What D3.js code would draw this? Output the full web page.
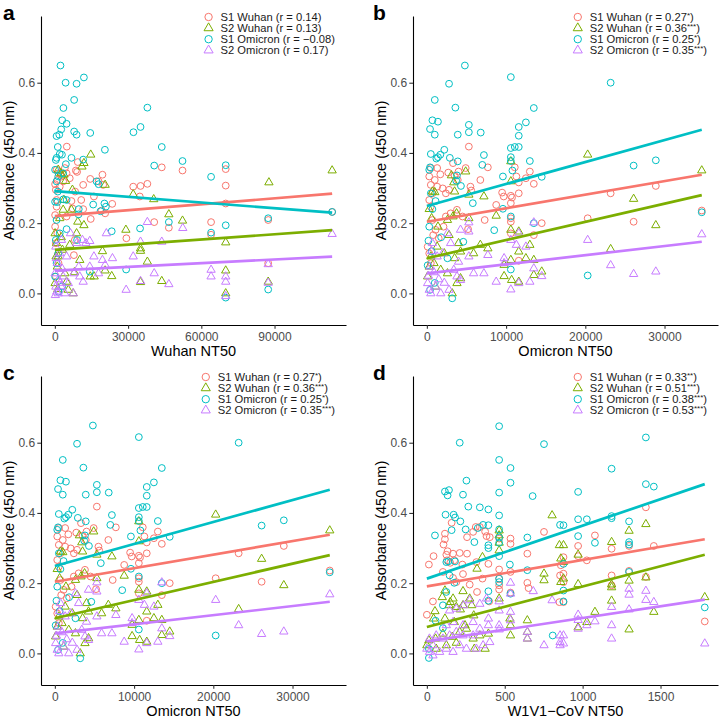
<!DOCTYPE html>
<html><head><meta charset="utf-8">
<script src="https://cdn.jsdelivr.net/npm/d3@7"></script>
<style>
body{margin:0;background:#fff}
svg{display:block}
text{font-family:"Liberation Sans",Arial,Helvetica,sans-serif}
</style>
</head><body>
<svg id="chart" width="720" height="720"></svg>
<script>
// ---------- shared ----------
const seriesNames = ["S1 Wuhan","S2 Wuhan","S1 Omicron","S2 Omicron"];
const seriesColors = ["#F8766D","#7CAE00","#00BFC4","#C77CFF"];
const seriesShapes = ["circle","triangle","circle","triangle"];
const yTicks = [0,0.2,0.4,0.6];
const yDomain = [-0.09,0.79];
const yTitle = "Absorbance (450 nm)";

// ---------- panel a : Wuhan NT50 ----------
const xTicksA = [0,30000,60000,90000];
const rA = ["0.14","0.13","\u22120.08","0.17"];
const starsA = ["","","",""];
const fitXA = [0,113600];
const fitA = [[0.220,0.284],[0.124,0.180],[0.291,0.230],[0.065,0.105]];
const aS1W = [[4900,0.418],[9400,0.374],[8600,0.350],[9100,0.346],[700,0.352],[1500,0.342],[2700,0.333],[3400,0.319],[1000,0.323],[4100,0.357],[4800,0.342],[6100,0.328],[14500,0.326],[11600,0.309],[19500,0.338],[17900,0.319],[19800,0.309],[32100,0.304],[35100,0.306],[37900,0.312],[43800,0.359],[52300,0.350],[70000,0.354],[70000,0.307],[70000,0.256],[34800,0.276],[23500,0.255],[20600,0.228],[19200,0.236],[16000,0.276],[14700,0.212],[10800,0.266],[6800,0.263],[7200,0.242],[11600,0.240],[40700,0.203],[46700,0.187],[64000,0.203],[64000,0.167],[29300,0.157],[87400,0.209],[87400,0.086],[113600,0.232],[100,0.223],[700,0.247],[100,0.190],[1000,0.171],[400,0.143],[1400,0.114],[400,0.295],[2000,0.304],[100,0.311],[700,0.266],[4800,0.219],[7800,0.109],[1500,0.086],[400,0.048],[8200,0.152],[8300,0.290]];
const aS2W = [[14700,0.395],[11900,0.371],[11100,0.361],[7200,0.295],[3700,0.338],[4400,0.320],[1400,0.352],[2500,0.342],[32100,0.282],[20600,0.309],[40500,0.268],[46700,0.225],[52300,0.207],[87700,0.316],[113600,0.350],[70000,0.145],[70000,0.065],[70000,0.0],[87400,0.033],[29100,0.181],[35100,0.128],[35100,0.121],[37900,0.090],[43800,0.035],[35100,0.032],[23300,0.049],[20600,0.065],[19500,0.120],[14500,0.048],[16100,0.048],[11900,0.194],[9400,0.204],[8900,0.171],[6800,0.238],[3400,0.238],[3700,0.266],[2000,0.214],[700,0.143],[1400,0.105],[1000,0.076],[100,0.029],[4100,0.057],[7500,0.0],[4800,0.033],[10200,0.095],[6100,0.138],[100,0.171],[3100,0.124],[500,0.105],[2600,0.160],[8000,0.060],[5500,0.010],[1200,0.012]];
const aS1O = [[2300,0.649],[4400,0.600],[8900,0.597],[11900,0.615],[3500,0.528],[7900,0.551],[3000,0.493],[2600,0.467],[4800,0.483],[7900,0.461],[8900,0.452],[700,0.448],[1800,0.452],[14500,0.457],[32200,0.459],[35100,0.474],[37900,0.529],[43800,0.417],[20500,0.409],[40700,0.364],[52300,0.377],[70000,0.365],[64000,0.332],[1200,0.417],[700,0.386],[2000,0.397],[2900,0.395],[6800,0.386],[11600,0.381],[100,0.352],[1400,0.333],[700,0.319],[3400,0.342],[4500,0.368],[4800,0.266],[100,0.261],[1000,0.260],[3500,0.268],[9800,0.240],[17100,0.319],[17900,0.311],[15700,0.253],[20300,0.256],[20900,0.247],[18700,0.234],[23300,0.177],[34900,0.185],[46700,0.203],[64000,0.173],[70000,0.194],[29200,0.068],[87400,0.214],[87400,0.011],[70000,-0.012],[113600,0.232],[14300,0.062],[9100,0.152],[4800,0.183],[9700,0.225],[100,0.048],[700,0.086],[1400,0.114],[400,0.152],[2000,0.171],[700,0.209],[400,0.380],[1200,0.290],[3000,0.020],[1500,0.005]];
const aS2O = [[37900,0.203],[52400,0.186],[113600,0.169],[21100,0.171],[14300,0.149],[12700,0.143],[11300,0.152],[16000,0.105],[23600,0.100],[19500,0.095],[20600,0.081],[32100,0.105],[35100,0.147],[43800,0.147],[40700,0.057],[46700,0.026],[29200,0.010],[35100,0.035],[64000,0.048],[64000,0.067],[70000,0.048],[70000,0.033],[70000,-0.008],[87400,0.083],[87400,0.030],[17900,0.057],[14300,0.076],[10200,0.048],[9800,0.076],[7500,0.0],[4100,0.0],[1400,0.0],[400,0.019],[100,0.057],[1000,0.086],[2000,0.114],[2700,0.152],[400,0.133],[4800,0.105],[6400,0.171],[8900,0.143],[5500,0.029],[3400,0.048],[7800,0.057],[11600,0.033],[200,-0.005],[800,0.005],[2200,0.030],[3000,0.070],[1500,0.040],[600,0.100],[2500,0.020]];

// ---------- panels b and c : Omicron NT50 ----------
const xTicksB = [0,10000,20000,30000];
const rB = ["0.27","0.36","0.25","0.35"];
const starsB = ["*","***","*","***"];
const fitXB = [0,34700];
const fitB = [[0.204,0.338],[0.100,0.280],[0.249,0.466],[0.057,0.147]];
const bS1W = [[5300,0.418],[500,0.357],[300,0.333],[1300,0.357],[1700,0.339],[1000,0.323],[2700,0.344],[3300,0.371],[3500,0.335],[4000,0.347],[3900,0.323],[500,0.309],[700,0.285],[300,0.266],[500,0.247],[1300,0.304],[2000,0.299],[2400,0.285],[2800,0.295],[4900,0.357],[5500,0.304],[5600,0.293],[6750,0.323],[7700,0.359],[8750,0.252],[9500,0.287],[9700,0.276],[10600,0.278],[10600,0.257],[10750,0.273],[11600,0.285],[11600,0.316],[11300,0.333],[11100,0.359],[12500,0.328],[13000,0.347],[13500,0.312],[14500,0.200],[13500,0.166],[10600,0.214],[10600,0.204],[10600,0.171],[11600,0.093],[7300,0.209],[5200,0.183],[2100,0.190],[1100,0.181],[700,0.209],[3000,0.228],[3800,0.238],[4500,0.219],[2400,0.219],[20300,0.214],[23200,0.285],[26100,0.204],[28900,0.306],[34700,0.236],[300,0.114],[500,0.086],[100,0.133],[1500,0.157],[800,0.166]];
const bS2W = [[20300,0.395],[34700,0.350],[10600,0.376],[10600,0.319],[4900,0.347],[3100,0.336],[3400,0.316],[700,0.290],[1000,0.288],[3500,0.290],[7200,0.276],[5300,0.281],[300,0.240],[600,0.214],[1400,0.190],[2600,0.209],[3750,0.228],[3300,0.219],[5300,0.214],[8750,0.221],[10600,0.181],[11600,0.176],[11600,0.119],[12500,0.100],[13000,0.138],[13500,0.095],[13500,0.052],[14500,0.062],[10600,0.095],[9750,0.081],[9750,0.049],[10700,0.038],[11600,0.033],[7700,0.128],[6750,0.138],[5900,0.114],[23200,0.126],[26100,0.269],[28900,0.194],[2800,0.166],[4000,0.143],[4250,0.119],[3500,0.100],[2200,0.114],[1300,0.133],[500,0.105],[300,0.076],[100,0.048],[900,0.086],[1750,0.067],[2600,0.057],[3200,0.0],[1100,0.019],[4250,0.043],[3800,0.029]];
const bS1O = [[4800,0.649],[2800,0.597],[3600,0.529],[1000,0.551],[700,0.493],[400,0.468],[1400,0.489],[1000,0.452],[3900,0.452],[5300,0.480],[5300,0.459],[6800,0.458],[10600,0.616],[23200,0.600],[13500,0.528],[12500,0.487],[11600,0.474],[11600,0.449],[11600,0.417],[11100,0.417],[10600,0.414],[7200,0.394],[2200,0.409],[1700,0.395],[1400,0.388],[1200,0.384],[2900,0.386],[500,0.397],[3900,0.376],[400,0.359],[300,0.352],[3800,0.336],[3700,0.321],[13000,0.377],[10600,0.388],[10600,0.377],[7000,0.366],[9600,0.333],[10800,0.350],[14500,0.332],[26100,0.364],[28900,0.379],[34700,0.231],[20300,0.051],[4300,0.306],[5800,0.257],[1100,0.263],[9600,0.241],[10600,0.219],[8500,0.180],[13500,0.200],[4600,0.147],[3200,-0.014],[10600,0.068],[500,0.285],[300,0.190],[200,0.150],[600,0.120],[100,0.080],[1000,0.030],[400,0.010],[1800,0.160],[2600,0.100],[700,0.240]];
const bS2O = [[13500,0.202],[20300,0.152],[34700,0.168],[23200,0.080],[26100,0.055],[28900,0.062],[5300,0.202],[5300,0.176],[4250,0.181],[11600,0.171],[10600,0.152],[11300,0.138],[12500,0.133],[13500,0.071],[14500,0.049],[13000,0.033],[10600,0.011],[11600,0.029],[9750,0.100],[9750,0.086],[8750,0.033],[7700,0.109],[7200,0.057],[5900,0.057],[5300,0.105],[4000,0.090],[3400,0.067],[3800,0.048],[4250,0.038],[2600,0.171],[3000,0.143],[2000,0.114],[1300,0.105],[700,0.143],[400,0.076],[100,0.029],[300,0.010],[500,0.0],[1100,0.019],[1750,0.0],[2800,0.010],[200,0.050],[900,0.060],[1500,0.040],[2200,0.030],[600,0.120]];

// ---------- panel d : W1V1-CoV NT50 ----------
const xTicksD = [0,500,1000,1500];
const rD = ["0.33","0.51","0.38","0.53"];
const starsD = ["**","***","***","***"];
const fitXD = [0,1784];
const fitD = [[0.191,0.325],[0.075,0.281],[0.213,0.482],[0.034,0.153]];
const dS1W = [[159,0.372],[116,0.341],[116,0.325],[107,0.310],[133,0.291],[125,0.281],[168,0.284],[211,0.286],[258,0.284],[228,0.253],[129,0.265],[150,0.258],[176,0.265],[258,0.331],[297,0.346],[314,0.360],[340,0.360],[374,0.347],[383,0.334],[404,0.331],[464,0.327],[537,0.327],[537,0.312],[645,0.284],[645,0.201],[752,0.346],[464,0.239],[464,0.213],[464,0.194],[537,0.232],[395,0.255],[318,0.260],[357,0.213],[275,0.196],[232,0.226],[189,0.203],[168,0.215],[103,0.232],[43,0.277],[13,0.253],[39,0.148],[0,0.110],[322,0.175],[400,0.148],[464,0.182],[537,0.173],[653,0.186],[855,0.222],[851,0.146],[860,0.251],[1406,0.416],[1079,0.336],[971,0.306],[971,0.277],[1027,0.265],[1186,0.298],[1298,0.306],[1457,0.306],[877,0.227],[877,0.203],[877,0.146],[1186,0.222],[1186,0.194],[1298,0.235],[1406,0.218],[1784,0.091],[877,0.274]];
const dS2W = [[804,0.393],[464,0.350],[464,0.336],[464,0.315],[464,0.293],[357,0.274],[322,0.241],[232,0.177],[116,0.179],[99,0.160],[168,0.156],[150,0.146],[142,0.137],[189,0.132],[215,0.125],[275,0.156],[288,0.137],[301,0.108],[232,0.137],[52,0.120],[43,0.099],[116,0.099],[176,0.089],[245,0.080],[254,0.070],[211,0.061],[163,0.047],[103,0.056],[56,0.042],[13,0.037],[0,0.023],[60,0.013],[125,0.023],[189,0.030],[297,0.042],[340,0.051],[395,0.056],[374,0.013],[305,0.013],[533,0.099],[537,0.080],[537,0.051],[645,0.094],[645,0.061],[645,0.042],[752,0.227],[752,0.208],[851,0.308],[860,0.270],[860,0.203],[464,0.156],[1406,0.368],[1298,0.349],[877,0.308],[1186,0.317],[971,0.281],[877,0.260],[877,0.213],[971,0.197],[1186,0.196],[1186,0.188],[1298,0.207],[1406,0.216],[1298,0.068],[1186,0.150],[1079,0.118],[1457,0.118],[971,0.074],[1784,0.160],[1027,0.089]];
const dS1O = [[464,0.647],[211,0.600],[752,0.596],[1406,0.615],[464,0.551],[537,0.528],[537,0.486],[254,0.492],[116,0.461],[142,0.465],[133,0.450],[232,0.452],[464,0.458],[679,0.448],[266,0.418],[340,0.416],[395,0.410],[120,0.395],[172,0.395],[181,0.387],[215,0.376],[464,0.393],[361,0.366],[327,0.357],[395,0.365],[249,0.353],[159,0.351],[52,0.336],[464,0.353],[464,0.330],[464,0.315],[464,0.277],[305,0.317],[395,0.308],[395,0.300],[125,0.260],[138,0.262],[181,0.262],[645,0.330],[533,0.253],[645,0.237],[855,0.366],[464,0.213],[464,0.203],[395,0.177],[537,0.170],[395,0.150],[176,0.201],[146,0.222],[125,0.175],[103,0.137],[56,0.093],[103,0.072],[13,0.013],[13,-0.013],[808,0.051],[1186,0.526],[1406,0.482],[1457,0.475],[971,0.460],[971,0.382],[1027,0.382],[1186,0.391],[1186,0.385],[1298,0.376],[877,0.365],[971,0.334],[1079,0.315],[1298,0.317],[1298,0.310],[877,0.255],[1298,0.232],[877,0.179],[877,0.148],[1784,0.131]];
const dS2O = [[537,0.201],[537,0.170],[683,0.177],[804,0.151],[464,0.148],[464,0.122],[383,0.156],[340,0.141],[275,0.151],[236,0.137],[189,0.127],[146,0.122],[537,0.118],[537,0.094],[645,0.061],[645,0.042],[752,0.023],[464,0.080],[464,0.068],[395,0.099],[395,0.080],[297,0.089],[340,0.070],[232,0.080],[189,0.061],[125,0.080],[146,0.051],[60,0.051],[103,0.042],[0,0.013],[17,0.004],[39,-0.006],[82,0.004],[125,0.013],[168,0.004],[211,0.023],[254,0.013],[318,0.013],[361,0.023],[404,0.032],[855,0.051],[855,0.032],[855,0.023],[168,0.089],[39,0.023],[232,0.051],[297,0.051],[17,0.042],[877,0.051],[877,0.028],[971,0.110],[971,0.095],[971,0.070],[1027,0.080],[1079,0.091],[1186,0.132],[1186,0.080],[1186,0.042],[1298,0.184],[1298,0.167],[1298,0.125],[1406,0.178],[1406,0.152],[1457,0.146],[1784,0.028]];

// ---------- layout ----------
const panels = [
  {tag:"a", ox:0,   oy:0,   left:41,  xDomain:[-5680,119280], xTicks:xTicksA, xTitle:"Wuhan NT50",      r:rA, stars:starsA, fitX:fitXA, fit:fitA, series:[aS1W,aS2W,aS1O,aS2O]},
  {tag:"b", ox:360, oy:0,   left:53,  xDomain:[-1750,36750],  xTicks:xTicksB, xTitle:"Omicron NT50",    r:rB, stars:starsB, fitX:fitXB, fit:fitB, series:[bS1W,bS2W,bS1O,bS2O]},
  {tag:"c", ox:0,   oy:360, left:41,  xDomain:[-1750,36750],  xTicks:xTicksB, xTitle:"Omicron NT50",    r:rB, stars:starsB, fitX:fitXB, fit:fitB, series:[bS1W,bS2W,bS1O,bS2O]},
  {tag:"d", ox:360, oy:360, left:53,  xDomain:[-89,1869],     xTicks:xTicksD, xTitle:"W1V1\u2212CoV NT50", r:rD, stars:starsD, fitX:fitXD, fit:fitD, series:[dS1W,dS2W,dS1O,dS2O]}
];

const svg = d3.select("#chart");
svg.append("rect").attr("width",720).attr("height",720).attr("fill","#fff");

const circleSym = d3.symbol().type(d3.symbolCircle).size(Math.PI*3.4*3.4)();
const triSym = d3.symbol().type(d3.symbolTriangle).size(30)();
const legCircle = d3.symbol().type(d3.symbolCircle).size(Math.PI*3.7*3.7)();
const legTri = d3.symbol().type(d3.symbolTriangle).size(36)();

panels.forEach(p => {
  const g = svg.append("g").attr("transform", `translate(${p.ox},${p.oy})`);
  const L = p.left, R = L + 305, T = 16, B = 325;
  const x = d3.scaleLinear().domain(p.xDomain).range([L, R]);
  const y = d3.scaleLinear().domain(yDomain).range([B, T]);

  // points
  p.series.forEach((data, i) => {
    g.append("g").selectAll("path").data(data).enter().append("path")
      .attr("d", seriesShapes[i] === "circle" ? circleSym : triSym)
      .attr("transform", d => `translate(${x(d[0])},${y(d[1])})`)
      .attr("fill", "none")
      .attr("stroke", seriesColors[i])
      .attr("stroke-width", 1);
  });

  // fitted lines
  p.fit.forEach((f, i) => {
    g.append("line")
      .attr("x1", x(p.fitX[0])).attr("y1", y(f[0]))
      .attr("x2", x(p.fitX[1])).attr("y2", y(f[1]))
      .attr("stroke", seriesColors[i]).attr("stroke-width", 2.7)
      .attr("stroke-linecap", "butt");
  });

  // axes
  const xa = g.append("g").attr("transform", `translate(0,${B})`)
    .call(d3.axisBottom(x).tickValues(p.xTicks).tickFormat(d3.format("d")).tickSizeInner(3.7).tickSizeOuter(0).tickPadding(3.6));
  const ya = g.append("g").attr("transform", `translate(${L},0)`)
    .call(d3.axisLeft(y).tickValues(yTicks).tickFormat(d3.format(".1f")).tickSizeInner(3.7).tickSizeOuter(0).tickPadding(2.2));
  [xa, ya].forEach(a => {
    a.attr("font-family", null).attr("font-size", null);
    a.select(".domain").attr("stroke", "#000").attr("stroke-width", 1.1);
    a.selectAll(".tick line").attr("stroke", "#333").attr("stroke-width", 1.1);
    a.selectAll(".tick text").attr("fill", "#4D4D4D").style("font-size", "12px");
  });

  // axis titles
  g.append("text").attr("x", (L + R) / 2).attr("y", 356)
    .attr("text-anchor", "middle").style("font-size", "14.5px").attr("fill", "#000")
    .text(p.xTitle);
  g.append("text").attr("transform", `translate(${L - 27},${(T + B) / 2}) rotate(-90)`)
    .attr("text-anchor", "middle").style("font-size", "14.5px").attr("fill", "#000")
    .text(yTitle);

  // panel tag
  g.append("text").attr("x", p.ox === 0 ? 3 : 13).attr("y", 20)
    .style("font-size", "21px").style("font-weight", "bold").attr("fill", "#000")
    .text(p.tag);

  // legend
  const lg = g.append("g");
  const rows = seriesNames.map((name, i) => {
    const t = lg.append("text").attr("y", T + 1 + i * 11.1 + 4)
      .style("font-size", "11.2px").attr("fill", "#1a1a1a");
    t.append("tspan").text(`${name} (r = ${p.r[i]}`);
    if (p.stars[i]) {
      t.append("tspan").attr("dy", -3).style("font-size", "8px").text(p.stars[i]);
      t.append("tspan").attr("dy", 3).text(")");
    } else {
      t.append("tspan").text(")");
    }
    return t;
  });
  const maxW = d3.max(rows, t => t.node().getComputedTextLength());
  const tx = R - 11 - maxW;
  rows.forEach((t, i) => {
    t.attr("x", tx);
    t.select("tspan").attr("x", tx);
    lg.append("path")
      .attr("d", seriesShapes[i] === "circle" ? legCircle : legTri)
      .attr("transform", `translate(${tx - 12},${T + 1 + i * 11.1})`)
      .attr("fill", "none").attr("stroke", seriesColors[i]).attr("stroke-width", 1);
  });
});
</script>
</body></html>
